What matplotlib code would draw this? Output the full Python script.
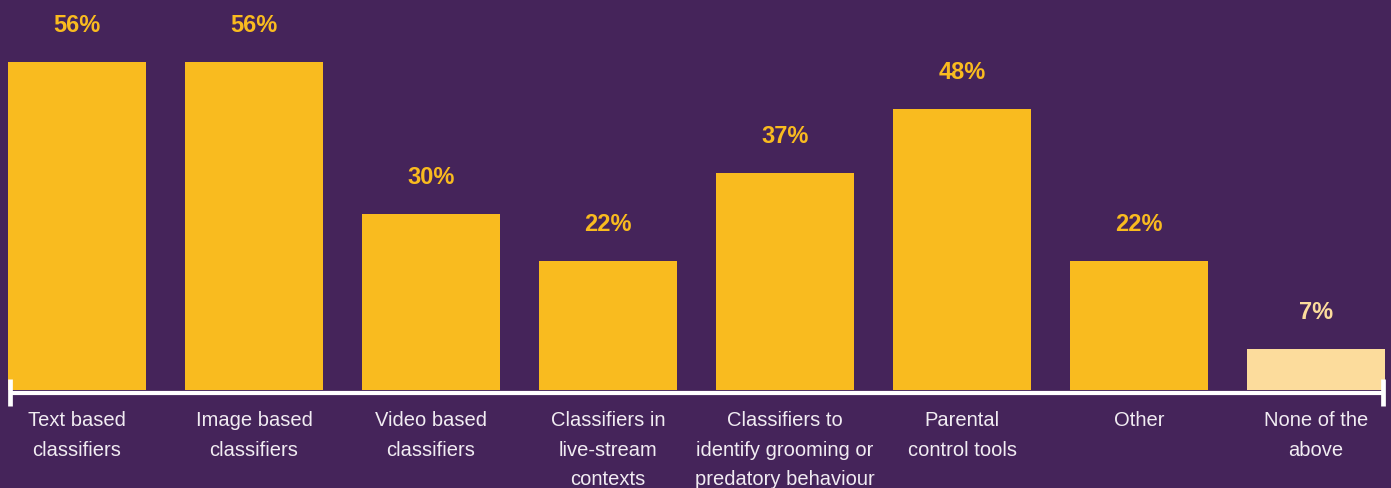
import matplotlib
matplotlib.use("Agg")
from matplotlib import pyplot as plt

# Survey results: tools in use
categories = [
    "Text based\nclassifiers",
    "Image based\nclassifiers",
    "Video based\nclassifiers",
    "Classifiers in\nlive-stream\ncontexts",
    "Classifiers to\nidentify grooming or\npredatory behaviour",
    "Parental\ncontrol tools",
    "Other",
    "None of the\nabove",
]
values = [56, 56, 30, 22, 37, 48, 22, 7]

BG = "#45245A"
GOLD = "#F9BB1F"
PALE = "#FCDC9C"
LABEL = "#F1ECF2"

bar_colors = [GOLD] * 7 + [PALE]

plt.rcParams['font.family'] = ['Liberation Sans', 'DejaVu Sans']

fig = plt.figure(figsize=(13.91, 4.88), dpi=100, facecolor=BG)
ax = fig.add_axes([0, 98 / 488, 1, 390 / 488])
ax.set_facecolor(BG)

x = list(range(len(values)))
ax.bar(x, values, width=0.78, color=bar_colors, linewidth=0)

# keep bars at their pixel slots
ax.set_xlim(-77 / 177, (1391 - 77) / 177)
ax.set_ylim(0, 390 / (328 / 56))
ax.axis('off')

# baseline with end caps
x_left, x_right = (10 - 77) / 177, (1383 - 77) / 177
ax.plot([x_left, x_right], [-0.45, -0.45], color="white", lw=3.0,
        clip_on=False, solid_capstyle='butt')
for xe in (x_left, x_right):
    ax.plot([xe, xe], [1.9, -2.7], color="white", lw=3.4,
            clip_on=False, solid_capstyle='butt')

for xi, v, c, lab in zip(x, values, bar_colors, categories):
    ax.annotate(f"{v}%", (xi, v), xytext=(0, 26.5), textcoords='offset points',
                ha='center', va='center', fontsize=17, fontweight='bold',
                color=c)
    ax.annotate(lab, (xi, 0), xytext=(0, -15), textcoords='offset points',
                ha='center', va='top', fontsize=14.5, color=LABEL,
                linespacing=1.72, annotation_clip=False)

fig.savefig("out.png", dpi=100, facecolor=BG)
